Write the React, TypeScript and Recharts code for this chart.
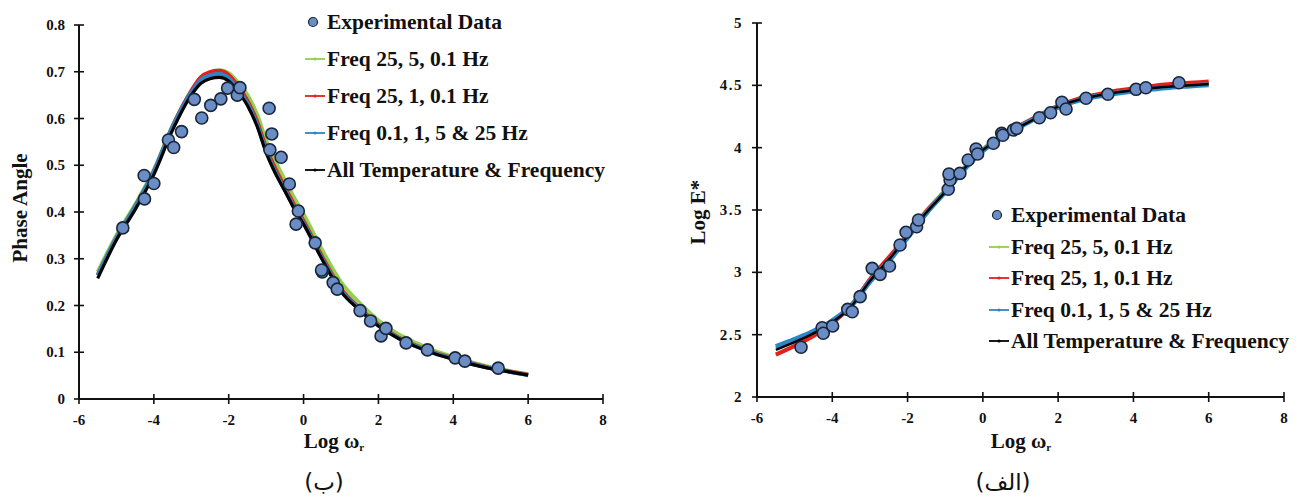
import { ComposedChart, Line, Scatter, XAxis, YAxis } from "recharts";

// shared x axis
const xTicks = [-6, -4, -2, 0, 2, 4, 6, 8];

// (ب) phase angle
const phaseTicks = [0, 0.1, 0.2, 0.3, 0.4, 0.5, 0.6, 0.7, 0.8];
const phaseCurveX = [-5.5, -5, -4.5, -4, -3.5, -3, -2.75, -2.5, -2.25, -2, -1.75, -1.5, -1.25, -1, -0.75, -0.5, -0.25, 0, 0.5, 1, 1.5, 2, 2.5, 3, 3.5, 4, 4.5, 5, 5.5, 6];
const phaseGreen = [0.272, 0.35, 0.416, 0.49, 0.584, 0.658, 0.687, 0.699, 0.703, 0.697, 0.677, 0.65, 0.61, 0.553, 0.508, 0.468, 0.43, 0.395, 0.318, 0.25, 0.205, 0.168, 0.14, 0.12, 0.103, 0.09, 0.078, 0.068, 0.06, 0.053];
const phaseRed = [0.265, 0.345, 0.412, 0.487, 0.583, 0.659, 0.688, 0.699, 0.702, 0.693, 0.669, 0.638, 0.595, 0.537, 0.492, 0.453, 0.415, 0.381, 0.304, 0.236, 0.194, 0.159, 0.133, 0.114, 0.099, 0.087, 0.076, 0.066, 0.059, 0.052];
const phaseBlue = [0.265, 0.345, 0.412, 0.487, 0.582, 0.656, 0.682, 0.692, 0.695, 0.686, 0.662, 0.632, 0.589, 0.53, 0.485, 0.447, 0.409, 0.376, 0.3, 0.232, 0.191, 0.157, 0.132, 0.113, 0.098, 0.086, 0.075, 0.066, 0.058, 0.051];
const phaseBlack = [0.258, 0.34, 0.405, 0.48, 0.575, 0.65, 0.675, 0.685, 0.688, 0.68, 0.657, 0.628, 0.585, 0.527, 0.482, 0.445, 0.407, 0.374, 0.298, 0.23, 0.19, 0.156, 0.131, 0.112, 0.097, 0.085, 0.074, 0.065, 0.058, 0.051];
const phaseExpX = [-4.83, -4.26, -4.25, -4.0, -3.61, -3.47, -3.26, -2.92, -2.72, -2.48, -2.21, -2.03, -1.77, -1.7, -0.92, -0.85, -0.9, -0.6, -0.38, -0.14, -0.2, 0.31, 0.5, 0.48, 0.79, 0.9, 1.51, 1.79, 2.07, 2.2, 2.74, 3.31, 4.05, 4.31, 5.2];
const phaseExpY = [0.366, 0.478, 0.428, 0.461, 0.554, 0.538, 0.572, 0.641, 0.601, 0.628, 0.642, 0.665, 0.65, 0.666, 0.622, 0.567, 0.533, 0.517, 0.46, 0.402, 0.374, 0.334, 0.272, 0.276, 0.249, 0.235, 0.189, 0.167, 0.135, 0.151, 0.12, 0.105, 0.088, 0.081, 0.066];

// (الف) log E*
const eTicks = [2, 2.5, 3, 3.5, 4, 4.5, 5];
const eCurveX = [-5.5, -5, -4.5, -4, -3.5, -3, -2.5, -2, -1.5, -1, -0.5, 0, 0.5, 1, 1.5, 2, 2.5, 3, 3.5, 4, 4.5, 5, 5.5, 6];
const eGreen = [2.39, 2.452, 2.52, 2.606, 2.73, 2.93, 3.105, 3.3, 3.495, 3.66, 3.84, 3.99, 4.095, 4.18, 4.26, 4.335, 4.385, 4.415, 4.44, 4.46, 4.475, 4.49, 4.5, 4.51];
const eRed = [2.34, 2.41, 2.49, 2.59, 2.735, 2.945, 3.12, 3.3, 3.49, 3.65, 3.83, 3.98, 4.09, 4.18, 4.26, 4.335, 4.39, 4.425, 4.455, 4.475, 4.495, 4.51, 4.52, 4.53];
const eBlue = [2.405, 2.462, 2.527, 2.612, 2.73, 2.925, 3.09, 3.28, 3.475, 3.645, 3.825, 3.975, 4.08, 4.17, 4.25, 4.325, 4.375, 4.41, 4.435, 4.455, 4.47, 4.485, 4.495, 4.505];
const eBlack = [2.378, 2.44, 2.51, 2.6, 2.725, 2.93, 3.1, 3.29, 3.48, 3.645, 3.83, 3.98, 4.09, 4.17, 4.25, 4.33, 4.38, 4.415, 4.44, 4.46, 4.478, 4.49, 4.5, 4.51];
const eExpX = [-4.83, -4.27, -4.24, -3.99, -3.59, -3.47, -3.26, -2.94, -2.73, -2.48, -2.2, -2.04, -1.76, -1.71, -0.92, -0.87, -0.9, -0.61, -0.39, -0.18, -0.14, 0.28, 0.5, 0.53, 0.81, 0.9, 1.5, 1.8, 2.1, 2.21, 2.74, 3.32, 4.07, 4.33, 5.21];
const eExpY = [2.399, 2.556, 2.511, 2.57, 2.703, 2.684, 2.805, 3.032, 2.984, 3.051, 3.219, 3.321, 3.366, 3.42, 3.666, 3.741, 3.789, 3.794, 3.901, 3.989, 3.949, 4.035, 4.115, 4.1, 4.142, 4.155, 4.24, 4.28, 4.364, 4.31, 4.396, 4.428, 4.468, 4.481, 4.521];

const seriesNames = [
  "Experimental Data",
  "Freq 25, 5, 0.1 Hz",
  "Freq 25, 1, 0.1 Hz",
  "Freq 0.1, 1, 5 & 25 Hz",
  "All Temperature & Frequency",
];

const GREEN = "#92d050";
const RED = "#e3201c";
const BLUE = "#2b86c5";
const BLACK = "#000000";
const DOT = "#6a8dc6";
const DOT_EDGE = "#1a2638";
const SERIF = "'Liberation Serif', 'Times New Roman', serif";

const zip = (xs: number[], ys: number[]) => xs.map((x, i) => ({ x, y: ys[i] }));

function YTick(props: any) {
  const { x, y, payload, spacing } = props;
  return (
    <g>
      <line x1={x - 5} x2={x + 5} y1={y} y2={y} stroke="#111" strokeWidth={1.6} />
      <text
        x={x - 14}
        y={y + 5}
        textAnchor="end"
        fontFamily={SERIF}
        fontWeight="bold"
        fontSize={15}
        letterSpacing={spacing || 0}
        fill="#111"
      >
        {payload.value}
      </text>
    </g>
  );
}

function XTick(props: any) {
  const { x, y, payload } = props;
  return (
    <g>
      <line x1={x} x2={x} y1={y - 5} y2={y + 5} stroke="#111" strokeWidth={1.6} />
      <text x={x} y={y + 26} textAnchor="middle" fontFamily={SERIF} fontWeight="bold" fontSize={15} fill="#111">
        {payload.value}
      </text>
    </g>
  );
}

function Dot(props: any) {
  const { cx, cy } = props;
  if (cx == null || cy == null) return null;
  return <circle cx={cx} cy={cy} r={6} fill={DOT} stroke={DOT_EDGE} strokeWidth={1.6} />;
}

function LegendBox({ left, top, gap }: { left: number; top: number; gap: number }) {
  const colors = [null, GREEN, RED, BLUE, BLACK];
  return (
    <div style={{ position: "absolute", left, top }}>
      {seriesNames.map((name, i) => (
        <div
          key={name}
          style={{ position: "absolute", top: i * gap, left: 0, height: 24, display: "flex", alignItems: "center", whiteSpace: "nowrap" }}
        >
          <svg width={22} height={12} style={{ display: "block" }}>
            {i === 0 ? (
              <circle cx={8} cy={6} r={4.5} fill={DOT} stroke={DOT_EDGE} strokeWidth={1.2} />
            ) : (
              <>
                <line x1={0} x2={20} y1={6} y2={6} stroke={colors[i]!} strokeWidth={1.8} />
                <circle cx={10} cy={6} r={1.6} fill={colors[i]!} />
              </>
            )}
          </svg>
          <span style={{ fontFamily: SERIF, fontWeight: "bold", fontSize: 21.5, color: "#111", lineHeight: "24px" }}>{name}</span>
        </div>
      ))}
    </div>
  );
}

function XTitle({ cx }: { cx: number }) {
  return (
    <text x={cx} y={448} textAnchor="middle" fontFamily={SERIF} fontWeight="bold" fontSize={21} fill="#111">
      <tspan>Log ω</tspan>
      <tspan fontSize={11} dy={3}>r</tspan>
    </text>
  );
}

function PhaseChart() {
  return (
    <ComposedChart width={650} height={497} margin={{ top: 25, right: 47, left: 19, bottom: 68 }}>
      <XAxis
        type="number"
        dataKey="x"
        domain={[-6, 8]}
        ticks={xTicks}
        allowDataOverflow
        height={30}
        tickSize={0}
        tickMargin={0}
        tick={<XTick />}
        axisLine={{ stroke: "#111", strokeWidth: 2 }}
        tickLine={false}
        label={{ content: () => <XTitle cx={334} /> }}
      />
      <YAxis
        type="number"
        dataKey="y"
        domain={[0, 0.8]}
        ticks={phaseTicks}
        allowDataOverflow
        width={60}
        tickSize={0}
        tickMargin={0}
        tick={<YTick />}
        axisLine={{ stroke: "#111", strokeWidth: 2 }}
        tickLine={false}
        label={{
          content: () => (
            <text
              x={27}
              y={208}
              transform="rotate(-90 27 208)"
              textAnchor="middle"
              fontFamily={SERIF}
              fontWeight="bold"
              fontSize={21}
              fill="#111"
            >
              Phase Angle
            </text>
          ),
        }}
      />
      <Line data={zip(phaseCurveX, phaseGreen)} dataKey="y" type="monotone" stroke={GREEN} strokeWidth={4} dot={false} isAnimationActive={false} />
      <Line data={zip(phaseCurveX, phaseRed)} dataKey="y" type="monotone" stroke={RED} strokeWidth={4} dot={false} isAnimationActive={false} />
      <Line data={zip(phaseCurveX, phaseBlue)} dataKey="y" type="monotone" stroke={BLUE} strokeWidth={4} dot={false} isAnimationActive={false} />
      <Line data={zip(phaseCurveX, phaseBlack)} dataKey="y" type="monotone" stroke={BLACK} strokeWidth={3.2} dot={false} isAnimationActive={false} />
      <Scatter data={zip(phaseExpX, phaseExpY)} dataKey="y" shape={<Dot />} isAnimationActive={false} />
    </ComposedChart>
  );
}

function ModulusChart() {
  return (
    <ComposedChart width={648} height={497} margin={{ top: 23, right: 14, left: 47, bottom: 70 }}>
      <XAxis
        type="number"
        dataKey="x"
        domain={[-6, 8]}
        ticks={xTicks}
        allowDataOverflow
        height={30}
        tickSize={0}
        tickMargin={0}
        tick={<XTick />}
        axisLine={{ stroke: "#111", strokeWidth: 2 }}
        tickLine={false}
        label={{ content: () => <XTitle cx={371} /> }}
      />
      <YAxis
        type="number"
        dataKey="y"
        domain={[2, 5]}
        ticks={eTicks}
        allowDataOverflow
        width={60}
        tickSize={0}
        tickMargin={0}
        tick={<YTick spacing={1.5} />}
        axisLine={{ stroke: "#111", strokeWidth: 2 }}
        tickLine={false}
        label={{
          content: () => (
            <text
              x={55}
              y={212}
              transform="rotate(-90 55 212)"
              textAnchor="middle"
              fontFamily={SERIF}
              fontWeight="bold"
              fontSize={21}
              fill="#111"
            >
              Log E*
            </text>
          ),
        }}
      />
      <Line data={zip(eCurveX, eGreen)} dataKey="y" type="monotone" stroke={GREEN} strokeWidth={4} dot={false} isAnimationActive={false} />
      <Line data={zip(eCurveX, eRed)} dataKey="y" type="monotone" stroke={RED} strokeWidth={4} dot={false} isAnimationActive={false} />
      <Line data={zip(eCurveX, eBlue)} dataKey="y" type="monotone" stroke={BLUE} strokeWidth={5} dot={false} isAnimationActive={false} />
      <Line data={zip(eCurveX, eBlack)} dataKey="y" type="monotone" stroke={BLACK} strokeWidth={2.5} dot={false} isAnimationActive={false} />
      <Scatter data={zip(eExpX, eExpY)} dataKey="y" shape={<Dot />} isAnimationActive={false} />
    </ComposedChart>
  );
}

const captionStyle = {
  position: "absolute" as const,
  top: 469,
  fontFamily: "'DejaVu Sans', sans-serif",
  fontSize: 23,
  color: "#111",
  transform: "translateX(-50%)",
  whiteSpace: "nowrap" as const,
};

export default function App() {
  return (
    <div style={{ position: "absolute", left: 0, top: 0, width: 1298, height: 497, background: "#fff", overflow: "hidden" }}>
      <div style={{ position: "absolute", left: 0, top: 0 }}>
        <PhaseChart />
      </div>
      <div style={{ position: "absolute", left: 650, top: 0 }}>
        <ModulusChart />
      </div>
      <LegendBox left={305} top={10} gap={37} />
      <LegendBox left={989} top={203} gap={31.5} />
      <div style={{ ...captionStyle, left: 324 }}>(ب)</div>
      <div style={{ ...captionStyle, left: 1003 }}>(الف)</div>
    </div>
  );
}
